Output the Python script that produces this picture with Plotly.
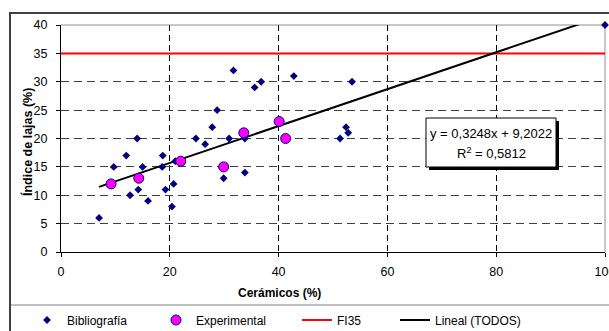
import plotly.graph_objects as go

# ---------------- data ----------------
bib_x = [7, 9.7, 12, 12.7, 14, 14.2, 15, 16, 18.6, 18.7, 19.2, 20.4, 20.7, 21,
         24.8, 26.5, 27.8, 28.7, 29.9, 30.9, 31.7, 33.8, 33.8, 35.6, 36.8, 42.8,
         53.5, 51.3, 52.4, 52.8, 100]
bib_y = [6, 15, 17, 10, 20, 11, 15, 9, 15, 17, 11, 8, 12, 16,
         20, 19, 22, 25, 13, 20, 32, 20, 14, 29, 30, 31,
         30, 20, 22, 21, 40]

exp_x = [9.2, 14.3, 22, 29.9, 33.6, 40.1, 41.3]
exp_y = [12, 13, 16, 15, 21, 23, 20]

fi35_x = [0, 100]
fi35_y = [35, 35]

trend_slope = 0.3248
trend_intercept = 9.2022
trend_x = [7, 100]
trend_y = [trend_slope * v + trend_intercept for v in trend_x]

x_ticks = [0, 20, 40, 60, 80, 100]
y_ticks = [0, 5, 10, 15, 20, 25, 30, 35, 40]

eq_text = "y = 0,3248x + 9,2022"
r2_text = "R<sup>2</sup> = 0,5812"

# ---------------- layout geometry ----------------
W, H = 609, 331
L, R, T, B = 61, 4, 25, 79
PW, PH = W - L - R, H - T - B
FONT = "Liberation Sans, Arial, sans-serif"


def pxx(px):
    return (px - L) / PW


def pxy(py):
    return (H - B - py) / PH


fig = go.Figure()

fig.add_trace(go.Scatter(
    x=fi35_x, y=fi35_y, mode="lines", name="FI35",
    line=dict(color="#FF0000", width=2), legend="legend3"))

fig.add_trace(go.Scatter(
    x=trend_x, y=trend_y, mode="lines", name="Lineal (TODOS)",
    line=dict(color="#000000", width=2), legend="legend4"))

fig.add_trace(go.Scatter(
    x=bib_x, y=bib_y, mode="markers", name="Bibliografía",
    marker=dict(symbol="diamond", size=6, color="#000080", line=dict(width=0)),
    cliponaxis=False, legend="legend"))

fig.add_trace(go.Scatter(
    x=exp_x, y=exp_y, mode="markers", name="Experimental",
    marker=dict(symbol="circle", size=10, color="#FF00FF",
                line=dict(width=1, color="#000080")),
    cliponaxis=False, legend="legend2"))

axis_common = dict(
    showline=True, linecolor="#000000", linewidth=1,
    ticks="outside", ticklen=4, tickcolor="#000000", tickwidth=1,
    showgrid=True, gridwidth=1, ticklabeloverflow="allow",
    zeroline=False, tickfont=dict(family=FONT, size=12.5, color="#000000"),
)

fig.update_xaxes(range=[0, 100], tickvals=x_ticks, ticktext=[str(v) for v in x_ticks],
                 griddash="6px,4px", gridcolor="#000000", ticklabelstandoff=4,
                 **axis_common)
fig.update_yaxes(range=[0, 40], tickvals=y_ticks, ticktext=[str(v) for v in y_ticks],
                 griddash="8px,5px", gridcolor="#404040", ticklabelstandoff=6,
                 **axis_common)

leg_common = dict(orientation="h", xanchor="left", yanchor="middle",
                  y=pxy(320), bgcolor="rgba(0,0,0,0)",
                  font=dict(family=FONT, size=12, color="#000000"))

shapes = [
    # plot-area border (top and right)
    dict(type="line", xref="paper", yref="paper", x0=0, x1=1, y0=1, y1=1,
         line=dict(color="#909090", width=1), layer="below"),
    dict(type="line", xref="paper", yref="paper", x0=1, x1=1, y0=0, y1=1,
         line=dict(color="#909090", width=1), layer="below"),
    # legend separator
    dict(type="line", xref="paper", yref="paper", x0=pxx(10), x1=pxx(609),
         y0=pxy(305), y1=pxy(305), line=dict(color="#808080", width=1)),
    # equation box shadow
    dict(type="rect", xref="paper", yref="paper", x0=pxx(429), x1=pxx(559),
         y0=pxy(170), y1=pxy(121), line=dict(width=0), fillcolor="#000000",
         layer="above"),
    # equation box
    dict(type="rect", xref="paper", yref="paper", x0=pxx(426), x1=pxx(556),
         y0=pxy(167), y1=pxy(118), line=dict(color="#000000", width=1),
         fillcolor="#FFFFFF", layer="above"),
]

annotations = [
    # chart-area frame drawn as an empty bordered annotation box
    dict(xref="paper", yref="paper", x=pxx(9), y=pxy(11.5), text=" ",
         showarrow=False, xanchor="left", yanchor="top", width=700, height=400,
         borderpad=0, borderwidth=2, bordercolor="#404040",
         bgcolor="rgba(0,0,0,0)", font=dict(family=FONT, size=12)),
    dict(xref="paper", yref="paper", x=pxx(491), y=pxy(133), text=eq_text,
         showarrow=False, font=dict(family=FONT, size=13, color="#000000"),
         xanchor="center", yanchor="middle"),
    dict(xref="paper", yref="paper", x=pxx(491), y=pxy(153), text=r2_text,
         showarrow=False, font=dict(family=FONT, size=13, color="#000000"),
         xanchor="center", yanchor="middle"),
    dict(xref="paper", yref="paper", x=pxx(279), y=pxy(293),
         text="<b>Cerámicos (%)</b>", showarrow=False,
         font=dict(family=FONT, size=12, color="#000000"),
         xanchor="center", yanchor="middle"),
    dict(xref="paper", yref="paper", x=pxx(27), y=pxy(142),
         text="<b>Índice de lajas (%)</b>", showarrow=False, textangle=-90,
         font=dict(family=FONT, size=12.5, color="#000000"),
         xanchor="center", yanchor="middle"),
]

fig.update_layout(
    width=W, height=H,
    margin=dict(l=L, r=R, t=T, b=B, pad=0, autoexpand=False),
    paper_bgcolor="#FFFFFF", plot_bgcolor="#FFFFFF",
    font=dict(family=FONT, size=12, color="#000000"),
    showlegend=True,
    legend=dict(x=pxx(27), **leg_common),
    legend2=dict(x=pxx(156), **leg_common),
    legend3=dict(x=pxx(297), **leg_common),
    legend4=dict(x=pxx(395), **leg_common),
    shapes=shapes,
    annotations=annotations,
)

fig.write_html("out.html", config={"displayModeBar": False},
               post_script="document.body.style.margin='0px';")
